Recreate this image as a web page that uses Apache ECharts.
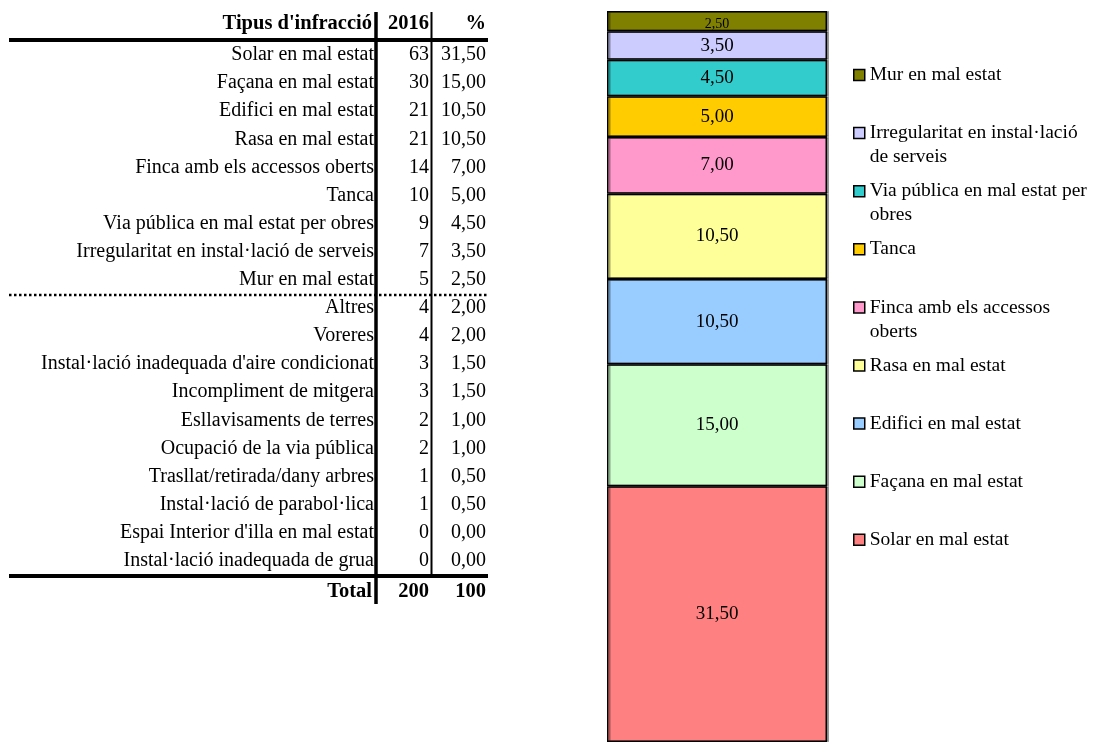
<!DOCTYPE html>
<html>
<head>
<meta charset="utf-8">
<script src="https://cdn.jsdelivr.net/npm/echarts@6/dist/echarts.min.js"></script>
<style>
html,body{margin:0;padding:0;background:#fff;}
#main{width:1101px;height:742px;}
</style>
</head>
<body>
<div id="main"></div>
<script>
// ---- data ----
var headers = ["Tipus d'infracció", "2016", "%"];
var categories = [
  "Solar en mal estat",
  "Façana en mal estat",
  "Edifici en mal estat",
  "Rasa en mal estat",
  "Finca amb els accessos oberts",
  "Tanca",
  "Via pública en mal estat per obres",
  "Irregularitat en instal·lació de serveis",
  "Mur en mal estat",
  "Altres",
  "Voreres",
  "Instal·lació inadequada d'aire condicionat",
  "Incompliment de mitgera",
  "Esllavisaments de terres",
  "Ocupació de la via pública",
  "Trasllat/retirada/dany arbres",
  "Instal·lació de parabol·lica",
  "Espai Interior d'illa en mal estat",
  "Instal·lació inadequada de grua"
];
var counts = [63, 30, 21, 21, 14, 10, 9, 7, 5, 4, 4, 3, 3, 2, 2, 1, 1, 0, 0];
var percents = [31.50, 15.00, 10.50, 10.50, 7.00, 5.00, 4.50, 3.50, 2.50, 2.00, 2.00, 1.50, 1.50, 1.00, 1.00, 0.50, 0.50, 0.00, 0.00];
var totalLabel = "Total";
var totalCount = 200;
var totalPercent = 100;
var chartCount = 9; // first 9 categories are drawn in the stacked bar
var barColors = ["#FF8080", "#CCFFCC", "#99CCFF", "#FFFF99", "#FF99CC", "#FFCC00", "#33CCCC", "#CCCCFF", "#808000"];
var legendLabels = [
  "Solar en mal estat",
  "Façana en mal estat",
  "Edifici en mal estat",
  "Rasa en mal estat",
  "Finca amb els accessos\noberts",
  "Tanca",
  "Via pública en mal estat per\nobres",
  "Irregularitat en instal·lació\nde serveis",
  "Mur en mal estat"
];

// ---- build ----
var FONT = "'Liberation Serif', 'DejaVu Serif', serif";
function fmt(v) { return v.toFixed(2).replace('.', ','); }

var series = [];
for (var i = 0; i < chartCount; i++) {
  var small = percents[i] < 3;
  series.push({
    name: categories[i],
    type: 'bar',
    stack: 'total',
    barWidth: '100%',
    data: [percents[i]],
    itemStyle: {
      color: barColors[i], borderColor: '#000', borderWidth: 1.5,
      shadowColor: 'rgba(0,0,0,0.35)', shadowOffsetX: 2, shadowOffsetY: 0, shadowBlur: 0
    },
    label: {
      show: true,
      position: 'inside',
      offset: small ? [0, 3] : [0, 0],
      color: '#000',
      fontFamily: FONT,
      fontSize: small ? 14 : 19,
      formatter: function (p) { return fmt(p.value); }
    }
  });
}

// legend text: an empty first line so that the real first line sits on the icon
var labelMap = {};
for (var j = 0; j < chartCount; j++) {
  var lbl = legendLabels[j];
  labelMap[categories[j]] = '\u00a0\n' + (lbl.indexOf('\n') >= 0 ? lbl : lbl + '\n\u00a0');
}

// table graphic
var colX = [374, 429, 486];
var rowY0 = 55, rowH = 28.1;
var g = [];
function txt(x, y, s, bold) {
  g.push({
    type: 'text', x: x, y: y, silent: true,
    style: { text: s, align: 'right', verticalAlign: 'middle', fill: '#000',
             font: (bold ? 'bold 20.5px ' : '20px ') + FONT }
  });
}
function line(x1, y1, x2, y2, w, dash) {
  g.push({
    type: 'line', silent: true,
    shape: { x1: x1, y1: y1, x2: x2, y2: y2 },
    style: { stroke: '#000', lineWidth: w, lineDash: dash || null }
  });
}
txt(colX[0] - 2, 24, headers[0], true);
txt(colX[1], 24, headers[1], true);
txt(colX[2], 24, headers[2], true);
for (var r = 0; r < categories.length; r++) {
  var y = rowY0 + r * rowH;
  txt(colX[0], y, categories[r], false);
  txt(colX[1], y, String(counts[r]), false);
  txt(colX[2], y, fmt(percents[r]), false);
}
var yTot = 592;
txt(colX[0] - 2, yTot, totalLabel, true);
txt(colX[1], yTot, String(totalCount), true);
txt(colX[2], yTot, String(totalPercent), true);

line(9, 40, 488, 40, 4);
line(9, 576, 488, 576, 4);
line(9, 295, 488, 295, 2.5, [2.5, 2.5]);
line(376, 12, 376, 604, 3.5);
line(431.5, 12, 431.5, 576, 2);

var legendData = categories.slice(0, chartCount).reverse();

var option = {
  backgroundColor: '#fff',
  animation: false,
  grid: { left: 607, width: 220, top: 11, bottom: -6, containLabel: false },
  xAxis: { type: 'category', data: ['2016'], show: false },
  yAxis: { type: 'value', min: 0, max: 90, show: false },
  legend: {
    orient: 'vertical',
    left: 853,
    top: 39,
    padding: 0,
    itemGap: -13.9,
    itemWidth: 11,
    itemHeight: 11,
    icon: 'rect',
    data: legendData,
    selectedMode: true,
    itemStyle: { borderColor: '#000', borderWidth: 1.5, shadowBlur: 0, shadowOffsetX: 0, shadowColor: 'transparent' },
    formatter: function (name) { return labelMap[name]; },
    textStyle: {
      fontFamily: FONT,
      fontSize: 19.5,
      color: '#000',
      lineHeight: 24
    }
  },
  graphic: g,
  series: series
};

var chart = echarts.init(document.getElementById('main'), null, { renderer: 'canvas' });
chart.setOption(option);
</script>
</body>
</html>
